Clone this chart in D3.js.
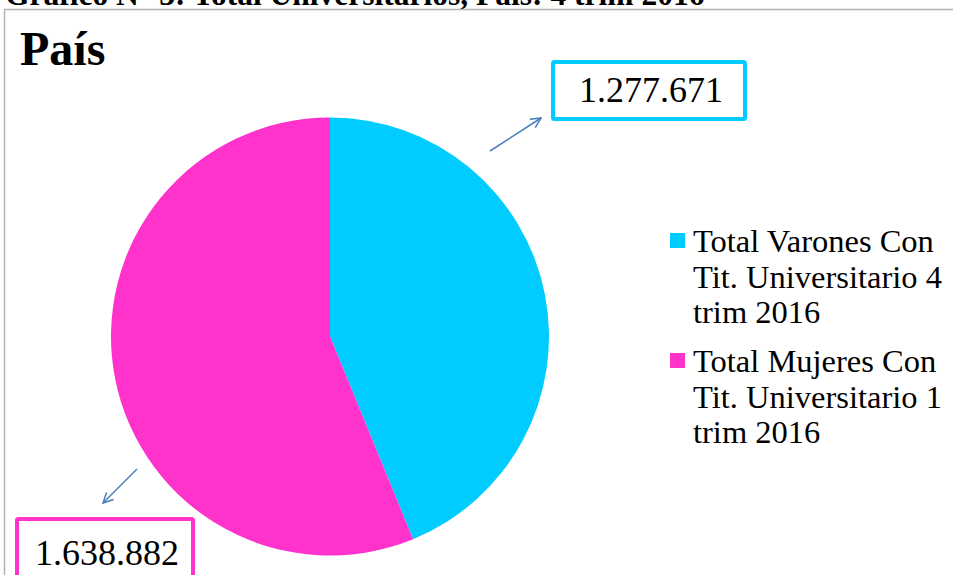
<!DOCTYPE html>
<meta charset="utf-8">
<style>
body {
  margin: 0;
  background: #ffffff;
}
svg {
  display: block;
}
text {
  font-family: 'Liberation Serif', 'Times New Roman', serif;
  fill: #000000;
}
text.header {
  font-size: 31.5px;
  font-weight: bold;
}
text.title {
  font-size: 48px;
  font-weight: bold;
}
text.value {
  font-size: 36px;
}
text.legend {
  font-size: 32.5px;
}
</style>
<body>
<svg width="953" height="575"></svg>

<script src="https://d3js.org/d3.v7.min.js"></script>
<script>

    const categories = ['Varones', 'Mujeres'];
    const values = [1277671, 1638882];
    const valueLabels = ['1.277.671', '1.638.882'];
    const legendLines = [
      ['Total Varones Con', 'Tit. Universitario 4', 'trim 2016'],
      ['Total Mujeres Con', 'Tit. Universitario 1', 'trim 2016']
    ];
    const colors = ['#00CCFF', '#FF33CC'];

    const svg = d3.select('svg');

    // header of the page, cut off by the top edge
    svg.append('text')
      .attr('class', 'header')
      .attr('x', 5)
      .attr('y', 5)
      .text('Gráfico N° 3: Total Universitarios, País: 4 trim 2016');

    // chart area frame (right/bottom edges are off screen)
    svg.append('rect')
      .attr('x', 4.5)
      .attr('y', 9.5)
      .attr('width', 1000)
      .attr('height', 700)
      .attr('fill', 'none')
      .attr('stroke', '#b4b4b4')
      .attr('stroke-width', 1.5);

    svg.append('text')
      .attr('class', 'title')
      .attr('x', 20)
      .attr('y', 65)
      .text('País');

    const cx = 330, cy = 336.5, radius = 219;

    const color = d3.scaleOrdinal().domain(categories).range(colors);

    const pie = d3.pie()
      .sort(null)
      .value((d, i) => values[i]);

    const arc = d3.arc()
      .innerRadius(0)
      .outerRadius(radius);

    const chart = svg.append('g')
      .attr('transform', `translate(${cx}, ${cy})`);

    chart.selectAll('path')
      .data(pie(categories))
      .enter()
      .append('path')
      .attr('d', arc)
      .attr('fill', (d) => color(d.data));

    // data labels with leader arrows
    const labelLayout = [
      { box: [553, 62, 192, 57], textX: 579, textY: 102, arrow: [490, 151, 541, 118] },
      { box: [17, 519, 176, 70], textX: 35, textY: 565, arrow: [137, 469, 103, 503] }
    ];

    svg.append('defs').append('marker')
      .attr('id', 'head')
      .attr('viewBox', '0 0 12 12')
      .attr('refX', 11)
      .attr('refY', 6)
      .attr('markerWidth', 12)
      .attr('markerHeight', 12)
      .attr('markerUnits', 'userSpaceOnUse')
      .attr('orient', 'auto')
      .append('path')
      .attr('d', 'M1,1 L11,6 L1,11')
      .attr('fill', 'none')
      .attr('stroke', '#4A7EBB')
      .attr('stroke-width', 1.5);

    const labels = svg.selectAll('g.label')
      .data(categories)
      .enter()
      .append('g')
      .attr('class', 'label');

    labels.append('line')
      .attr('x1', (d, i) => labelLayout[i].arrow[0])
      .attr('y1', (d, i) => labelLayout[i].arrow[1])
      .attr('x2', (d, i) => labelLayout[i].arrow[2])
      .attr('y2', (d, i) => labelLayout[i].arrow[3])
      .attr('stroke', '#4A7EBB')
      .attr('stroke-width', 1.5)
      .attr('marker-end', 'url(#head)');

    labels.append('rect')
      .attr('x', (d, i) => labelLayout[i].box[0])
      .attr('y', (d, i) => labelLayout[i].box[1])
      .attr('width', (d, i) => labelLayout[i].box[2])
      .attr('height', (d, i) => labelLayout[i].box[3])
      .attr('rx', 1.5)
      .attr('fill', '#ffffff')
      .attr('stroke', (d) => color(d))
      .attr('stroke-width', 4);

    labels.append('text')
      .attr('class', 'value')
      .attr('x', (d, i) => labelLayout[i].textX)
      .attr('y', (d, i) => labelLayout[i].textY)
      .text((d, i) => valueLabels[i]);

    // legend
    const legend = svg.selectAll('g.legend')
      .data(categories)
      .enter()
      .append('g')
      .attr('class', 'legend')
      .attr('transform', (d, i) => `translate(670, ${233 + i * 120})`);

    legend.append('rect')
      .attr('width', 15)
      .attr('height', 15)
      .attr('fill', (d) => color(d));

    legend.append('text')
      .attr('class', 'legend')
      .selectAll('tspan')
      .data((d, i) => legendLines[i])
      .enter()
      .append('tspan')
      .attr('x', 23)
      .attr('y', (d, j) => 19 + j * 35.5)
      .text((d) => d);

</script>
</body>
